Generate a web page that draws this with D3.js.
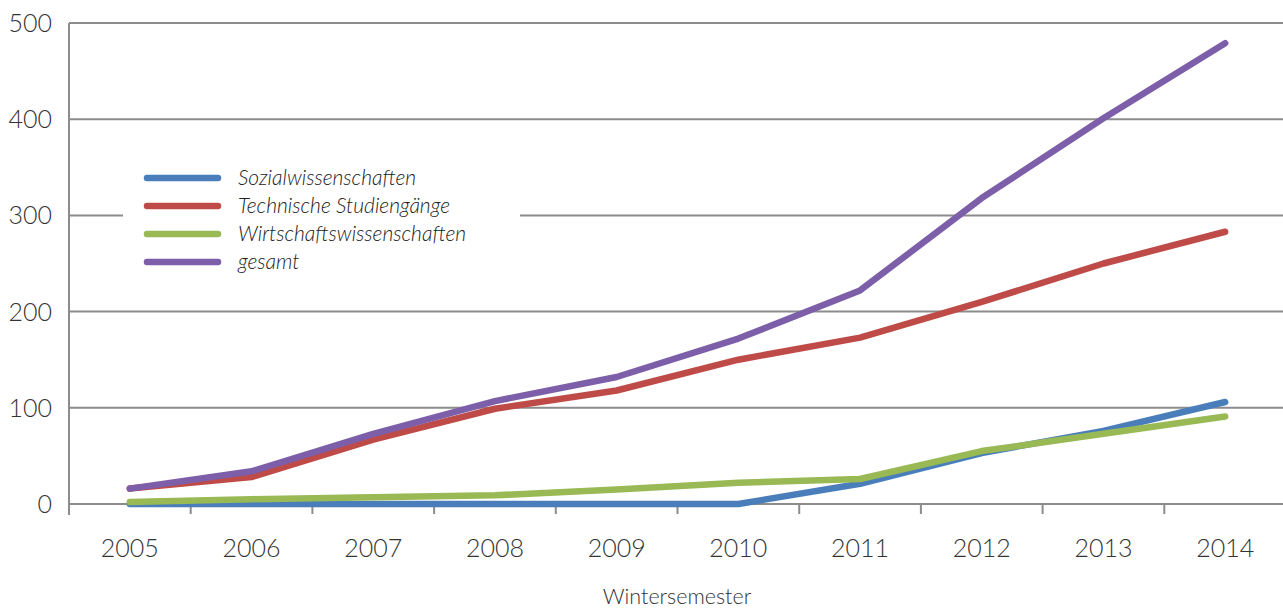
<!DOCTYPE html>
<html>
<head>
<meta charset="utf-8">
<script src="https://cdn.jsdelivr.net/npm/d3@7"></script>
<style>
  html, body { margin: 0; padding: 0; background: #fff; }
  svg { display: block; font-family: Lato, "Open Sans", sans-serif; }
</style>
</head>
<body>
<svg id="chart" width="1283" height="610"></svg>
<script>
// Wintersemester
const years = ["2005", "2006", "2007", "2008", "2009", "2010", "2011", "2012", "2013", "2014"];
const sozial = [0, 0, 0, 0, 0, 0, 21, 53, 76, 106];
const technik = [16, 28, 67, 99, 118, 150, 173, 210, 250, 283];
const wirtschaft = [2, 5, 7, 9, 15, 22, 26, 55, 73, 91];
const gesamt = [16, 34, 73, 107, 132, 172, 222, 318, 401, 479];
const yTicks = [0, 100, 200, 300, 400, 500];
const seriesNames = ["Sozialwissenschaften", "Technische Studiengänge", "Wirtschaftswissenschaften", "gesamt"];
const seriesColors = ["#4a7ebb", "#be4b48", "#98b954", "#7d5fa9"];
const seriesValues = [sozial, technik, wirtschaft, gesamt];

const svg = d3.select("#chart");
const plotLeft = 69, plotRight = 1286, plotTop = 23, plotBottom = 504;

const x = d3.scaleBand().domain(years).range([plotLeft, plotRight]).paddingInner(0).paddingOuter(0);
const y = d3.scaleLinear().domain([0, 500]).range([plotBottom, plotTop]);
const cx = d => x(d) + x.bandwidth() / 2;

// horizontal gridlines
svg.append("g").selectAll("line").data(yTicks).join("line")
  .attr("x1", plotLeft).attr("x2", 1283)
  .attr("y1", d => y(d)).attr("y2", d => y(d))
  .attr("stroke", "#8c8c8c").attr("stroke-width", 2);

// y axis labels
svg.append("g").selectAll("text").data(yTicks).join("text")
  .attr("x", 52).attr("y", d => y(d) + 9)
  .attr("text-anchor", "end")
  .attr("font-size", 25).attr("font-weight", 300).attr("fill", "#333")
  .text(d => d);

// vertical axis line
svg.append("line")
  .attr("x1", plotLeft).attr("x2", plotLeft).attr("y1", plotTop).attr("y2", plotBottom + 11)
  .attr("stroke", "#8c8c8c").attr("stroke-width", 2);

// category tick marks at band boundaries
const boundaries = years.slice(1).map(d => x(d)).concat([plotRight - 1]);
svg.append("g").selectAll("line").data(boundaries).join("line")
  .attr("x1", d => d).attr("x2", d => d)
  .attr("y1", plotBottom).attr("y2", plotBottom + 10)
  .attr("stroke", "#8c8c8c").attr("stroke-width", 2);

// x labels
svg.append("g").selectAll("text").data(years).join("text")
  .attr("x", d => cx(d)).attr("y", 557)
  .attr("text-anchor", "middle")
  .attr("font-size", 25).attr("font-weight", 300).attr("fill", "#333")
  .text(d => d);

svg.append("text")
  .attr("x", 677).attr("y", 604)
  .attr("text-anchor", "middle")
  .attr("font-size", 21.5).attr("font-weight", 300).attr("fill", "#333")
  .text("Wintersemester");

// data lines
const line = d3.line().x((d, i) => cx(years[i])).y(d => y(d));
svg.append("g").selectAll("path").data(seriesValues).join("path")
  .attr("d", d => line(d))
  .attr("fill", "none")
  .attr("stroke", (d, i) => seriesColors[i])
  .attr("stroke-width", 6.5)
  .attr("stroke-linecap", "round")
  .attr("stroke-linejoin", "round");

// legend
const legend = svg.append("g");
legend.append("rect")
  .attr("x", 123).attr("y", 155).attr("width", 397).attr("height", 125)
  .attr("fill", "#fff");
const rows = legend.selectAll("g").data(seriesNames).join("g")
  .attr("transform", (d, i) => `translate(0, ${178 + i * 28})`);
rows.append("line")
  .attr("x1", 147).attr("x2", 218).attr("y1", 0).attr("y2", 0)
  .attr("stroke", (d, i) => seriesColors[i])
  .attr("stroke-width", 6.5).attr("stroke-linecap", "round");
rows.append("text")
  .attr("x", 238).attr("y", 7)
  .attr("font-size", 21).attr("font-style", "italic").attr("font-weight", 300)
  .attr("fill", "#222")
  .text(d => d);
</script>
</body>
</html>
